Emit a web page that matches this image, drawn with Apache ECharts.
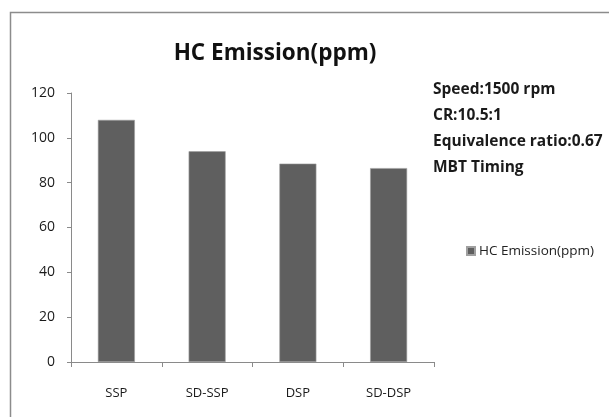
<!DOCTYPE html>
<html>
<head>
<meta charset="utf-8">
<script src="https://cdn.jsdelivr.net/npm/echarts@6/dist/echarts.min.js"></script>
<style>
  html, body { margin: 0; padding: 0; background: #ffffff; }
  #chart { width: 609px; height: 417px; }
</style>
</head>
<body>
<div id="chart"></div>
<script>
// Spark-plug configurations and their measured HC emissions
const categories = ['SSP', 'SD-SSP', 'DSP', 'SD-DSP'];
const hcEmission = [108, 94, 88.5, 86.5];
const yTicks = [0, 20, 40, 60, 80, 100, 120];
const conditions = ['Speed:1500 rpm', 'CR:10.5:1', 'Equivalence ratio:0.67', 'MBT Timing'];
const seriesName = 'HC Emission(ppm)';
const titleText = 'HC Emission(ppm)';

const FONT = '"Open Sans", "Noto Sans", sans-serif';

const chart = echarts.init(document.getElementById('chart'), null, { renderer: 'canvas' });

chart.setOption({
  backgroundColor: '#ffffff',
  animation: false,
  title: {
    text: titleText,
    left: 270,
    top: 37,
    textAlign: 'center',
    textStyle: { fontFamily: FONT, fontWeight: 'bold', fontSize: 22.5, color: '#111111', letterSpacing: -0.9 }
  },
  legend: {
    data: [seriesName],
    left: 461,
    top: 239,
    itemWidth: 8,
    itemHeight: 8,
    itemGap: 5,
    icon: 'rect',
    textStyle: { fontFamily: FONT, fontSize: 13.5, color: '#222222', padding: [0, 0, 0, -1] }
  },
  grid: { left: 71, right: 175, top: 93, bottom: 55, containLabel: false },
  xAxis: {
    type: 'category',
    data: categories,
    axisLine: { lineStyle: { color: '#8a8a8a', width: 1 } },
    axisTick: { show: true, alignWithLabel: false, length: 5, lineStyle: { color: '#8a8a8a' } },
    axisLabel: { fontFamily: FONT, fontSize: 13, color: '#1a1a1a', margin: 25 }
  },
  yAxis: {
    type: 'value',
    min: yTicks[0],
    max: yTicks[yTicks.length - 1],
    interval: yTicks[1] - yTicks[0],
    splitLine: { show: false },
    axisLine: { show: true, lineStyle: { color: '#8a8a8a', width: 1 } },
    axisTick: { show: true, length: 4, inside: false, lineStyle: { color: '#8a8a8a' } },
    axisLabel: { fontFamily: FONT, fontSize: 14, color: '#1a1a1a', margin: 16 }
  },
  series: [{
    name: seriesName,
    type: 'bar',
    data: hcEmission,
    barWidth: 37,
    itemStyle: { color: '#5f5f5f', borderColor: '#a0a0a0', borderWidth: 0.6 }
  }],
  graphic: [
    // outer frame, only top and left edges fall inside the canvas
    {
      type: 'rect',
      shape: { x: 10.5, y: 12.5, width: 620, height: 420 },
      style: { fill: null, stroke: '#8c8c8c', lineWidth: 1.5 },
      z: -1
    },
    {
      type: 'text',
      left: 433,
      top: 77,
      style: {
        text: conditions.join('\n'),
        fontFamily: FONT,
        fontWeight: 'bold',
        fontSize: 15.5,
        lineHeight: 26,
        fill: '#1a1a1a'
      }
    }
  ]
});
</script>
</body>
</html>
